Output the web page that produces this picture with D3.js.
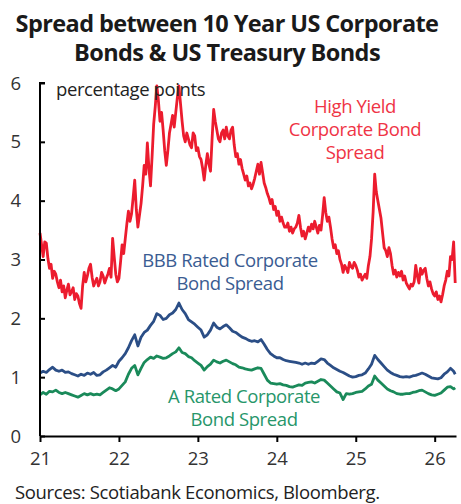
<!DOCTYPE html>
<html>
<head>
<meta charset="utf-8">
<script src="https://cdn.jsdelivr.net/npm/d3@7"></script>
<style>
  html, body { margin: 0; padding: 0; background: #fff; }
  svg { display: block; font-family: "Open Sans", "Noto Sans", sans-serif; }
</style>
</head>
<body>
<svg id="chart" width="461" height="504"></svg>
<script>
// High yield observation dates, as decimal years (21 = Jan 2021)
const hyDates = [
  21.00, 21.02, 21.04, 21.06, 21.08, 21.10, 21.12, 21.14, 21.16, 21.18,
  21.20, 21.22, 21.24, 21.26, 21.28, 21.30, 21.32, 21.34, 21.36, 21.38,
  21.40, 21.42, 21.44, 21.46, 21.48, 21.50, 21.52, 21.54, 21.56, 21.58,
  21.60, 21.62, 21.64, 21.66, 21.68, 21.70, 21.72, 21.74, 21.76, 21.78,
  21.80, 21.82, 21.84, 21.86, 21.88, 21.90, 21.92, 21.94, 21.96, 21.98,
  22.00, 22.02, 22.04, 22.06, 22.08, 22.10, 22.12, 22.14, 22.16, 22.18,
  22.20, 22.22, 22.24, 22.26, 22.28, 22.30, 22.32, 22.34, 22.36, 22.38,
  22.40, 22.42, 22.44, 22.46, 22.48, 22.50, 22.52, 22.54, 22.56, 22.58,
  22.60, 22.62, 22.64, 22.66, 22.68, 22.70, 22.72, 22.74, 22.76, 22.78,
  22.80, 22.82, 22.84, 22.86, 22.88, 22.90, 22.92, 22.94, 22.96, 22.98,
  23.00, 23.02, 23.04, 23.06, 23.08, 23.10, 23.12, 23.14, 23.16, 23.18,
  23.20, 23.22, 23.24, 23.26, 23.28, 23.30, 23.32, 23.34, 23.36, 23.38,
  23.40, 23.42, 23.44, 23.46, 23.48, 23.50, 23.52, 23.54, 23.56, 23.58,
  23.60, 23.62, 23.64, 23.66, 23.68, 23.70, 23.72, 23.74, 23.76, 23.78,
  23.80, 23.82, 23.84, 23.86, 23.88, 23.90, 23.92, 23.94, 23.96, 23.98,
  24.00, 24.02, 24.04, 24.06, 24.08, 24.10, 24.12, 24.14, 24.16, 24.18,
  24.20, 24.22, 24.24, 24.26, 24.28, 24.30, 24.32, 24.34, 24.36, 24.38,
  24.40, 24.42, 24.44, 24.46, 24.48, 24.50, 24.52, 24.54, 24.56, 24.58,
  24.60, 24.62, 24.64, 24.66, 24.68, 24.70, 24.72, 24.74, 24.76, 24.78,
  24.80, 24.82, 24.84, 24.86, 24.88, 24.90, 24.92, 24.94, 24.96, 24.98,
  25.00, 25.02, 25.04, 25.06, 25.08, 25.10, 25.12, 25.14, 25.16, 25.18,
  25.20, 25.22, 25.24, 25.26, 25.28, 25.30, 25.32, 25.34, 25.36, 25.38,
  25.40, 25.42, 25.44, 25.46, 25.48, 25.50, 25.52, 25.54, 25.56, 25.58,
  25.60, 25.62, 25.64, 25.66, 25.68, 25.70, 25.72, 25.74, 25.76, 25.78,
  25.80, 25.82, 25.84, 25.86, 25.88, 25.90, 25.92, 25.94, 25.96, 25.98,
  26.00, 26.02, 26.04, 26.06, 26.08, 26.10, 26.12, 26.14, 26.16, 26.18,
  26.20, 26.22, 26.24, 26.26
];

// High yield corporate bond spread, percentage points
const highYield = [
  3.45, 3.25, 3.05, 3.30, 3.28, 3.02, 2.85, 2.92, 2.68, 2.80,
  2.75, 2.62, 2.52, 2.65, 2.45, 2.55, 2.35, 2.48, 2.58, 2.40,
  2.45, 2.52, 2.32, 2.42, 2.38, 2.25, 2.17, 2.55, 2.78, 2.62,
  2.72, 2.85, 2.92, 2.70, 2.55, 2.62, 2.68, 2.55, 2.62, 2.78,
  2.72, 2.60, 2.68, 2.75, 2.85, 2.70, 3.36, 3.05, 2.75, 2.62,
  2.68, 2.95, 3.25, 3.10, 3.35, 3.60, 3.82, 3.65, 3.78, 4.05,
  4.35, 3.85, 3.55, 3.75, 3.95, 4.25, 4.60, 4.45, 4.98, 4.55,
  4.25, 4.75, 5.30, 5.60, 5.95, 5.70, 5.35, 5.50, 5.20, 4.85,
  4.60, 4.85, 5.15, 5.30, 5.45, 5.25, 5.50, 5.75, 5.95, 5.65,
  5.35, 5.10, 5.00, 5.15, 5.05, 4.95, 4.90, 5.15, 5.10, 4.85,
  4.90, 4.75, 4.70, 4.55, 4.35, 4.60, 4.80, 4.62, 4.50, 5.05,
  5.55, 5.35, 5.20, 5.05, 5.00, 5.15, 5.20, 5.05, 5.25, 5.10,
  5.05, 5.20, 5.25, 4.95, 4.75, 4.80, 4.62, 4.70, 4.55, 4.45,
  4.35, 4.42, 4.25, 4.30, 4.20, 4.28, 4.38, 4.50, 4.62, 4.45,
  4.65, 4.48, 4.30, 4.22, 4.12, 4.05, 3.95, 4.02, 3.85, 3.90,
  3.75, 3.82, 3.65, 3.72, 3.62, 3.55, 3.55, 3.62, 3.48, 3.55,
  3.45, 3.52, 3.55, 3.62, 3.75, 3.55, 3.40, 3.48, 3.35, 3.45,
  3.55, 3.48, 3.60, 3.52, 3.65, 3.55, 3.45, 3.58, 3.50, 3.75,
  4.05, 3.80, 3.65, 3.72, 3.55, 3.35, 3.20, 3.25, 3.10, 3.15,
  3.00, 2.92, 2.78, 2.90, 2.85, 2.78, 2.95, 2.88, 2.85, 2.95,
  2.90, 2.82, 2.70, 2.75, 2.65, 2.70, 2.75, 2.68, 2.90, 3.05,
  3.35, 3.80, 4.45, 4.15, 4.00, 3.85, 3.70, 3.45, 3.20, 3.15,
  3.05, 3.20, 3.10, 2.90, 2.75, 2.82, 2.70, 2.78, 2.72, 2.80,
  2.65, 2.72, 2.60, 2.55, 2.50, 2.58, 2.55, 2.62, 2.90, 2.72,
  2.60, 2.85, 2.75, 2.82, 2.85, 2.68, 2.55, 2.62, 2.50, 2.42,
  2.38, 2.45, 2.32, 2.38, 2.28, 2.40, 2.55, 2.65, 2.80, 2.72,
  3.05, 3.00, 3.30, 2.60
];

// Investment grade observation dates, as decimal years
const igDates = [
  21.00, 21.04, 21.08, 21.12, 21.16, 21.20, 21.24, 21.28, 21.32, 21.36,
  21.40, 21.44, 21.48, 21.52, 21.56, 21.60, 21.64, 21.68, 21.72, 21.76,
  21.80, 21.84, 21.88, 21.92, 21.96, 22.00, 22.04, 22.08, 22.12, 22.16,
  22.20, 22.24, 22.28, 22.32, 22.36, 22.40, 22.44, 22.48, 22.52, 22.56,
  22.60, 22.64, 22.68, 22.72, 22.76, 22.80, 22.84, 22.88, 22.92, 22.96,
  23.00, 23.04, 23.08, 23.12, 23.16, 23.20, 23.24, 23.28, 23.32, 23.36,
  23.40, 23.44, 23.48, 23.52, 23.56, 23.60, 23.64, 23.68, 23.72, 23.76,
  23.80, 23.84, 23.88, 23.92, 23.96, 24.00, 24.04, 24.08, 24.12, 24.16,
  24.20, 24.24, 24.28, 24.32, 24.36, 24.40, 24.44, 24.48, 24.52, 24.56,
  24.60, 24.64, 24.68, 24.72, 24.76, 24.80, 24.84, 24.88, 24.92, 24.96,
  25.00, 25.04, 25.08, 25.12, 25.16, 25.20, 25.24, 25.28, 25.32, 25.36,
  25.40, 25.44, 25.48, 25.52, 25.56, 25.60, 25.64, 25.68, 25.72, 25.76,
  25.80, 25.84, 25.88, 25.92, 25.96, 26.00, 26.04, 26.08, 26.12, 26.16,
  26.20, 26.24, 26.26
];

// BBB rated corporate bond spread, percentage points
const bbbRated = [
  1.07, 1.10, 1.08, 1.13, 1.17, 1.12, 1.10, 1.12, 1.08, 1.09,
  1.06, 1.04, 1.02, 1.05, 1.03, 1.07, 1.05, 1.08, 1.03, 1.04,
  1.09, 1.12, 1.16, 1.20, 1.17, 1.27, 1.33, 1.40, 1.50, 1.62,
  1.72, 1.53, 1.68, 1.76, 1.80, 1.88, 1.95, 2.08, 2.05, 1.98,
  2.00, 2.06, 2.09, 2.15, 2.26, 2.15, 2.08, 1.98, 1.94, 1.90,
  1.85, 1.80, 1.68, 1.72, 1.80, 1.92, 1.85, 1.82, 1.86, 1.89,
  1.84, 1.78, 1.76, 1.72, 1.68, 1.66, 1.63, 1.61, 1.62, 1.60,
  1.64, 1.56, 1.47, 1.40, 1.36, 1.33, 1.33, 1.30, 1.28, 1.27,
  1.26, 1.25, 1.24, 1.22, 1.24, 1.22, 1.24, 1.23, 1.27, 1.31,
  1.30, 1.24, 1.20, 1.16, 1.13, 1.10, 1.08, 1.05, 1.02, 1.00,
  1.01, 1.03, 1.04, 1.07, 1.14, 1.22, 1.37, 1.30, 1.24, 1.18,
  1.12, 1.08, 1.05, 1.03, 1.01, 1.00, 1.01, 1.00, 1.02, 1.03,
  1.05, 1.07, 1.05, 1.02, 0.99, 0.98, 0.97, 0.99, 1.05, 1.09,
  1.15, 1.10, 1.05
];

// A rated corporate bond spread, percentage points
const aRated = [
  0.70, 0.74, 0.71, 0.76, 0.75, 0.78, 0.74, 0.72, 0.74, 0.72,
  0.70, 0.68, 0.66, 0.69, 0.72, 0.70, 0.72, 0.70, 0.71, 0.70,
  0.74, 0.78, 0.82, 0.80, 0.77, 0.80, 0.86, 0.92, 1.05, 1.15,
  1.20, 1.04, 1.15, 1.25, 1.30, 1.34, 1.32, 1.36, 1.34, 1.32,
  1.33, 1.36, 1.40, 1.43, 1.50, 1.42, 1.40, 1.35, 1.33, 1.28,
  1.24, 1.20, 1.12, 1.18, 1.22, 1.29, 1.26, 1.24, 1.27, 1.29,
  1.26, 1.23, 1.21, 1.17, 1.16, 1.14, 1.13, 1.12, 1.14, 1.16,
  1.15, 1.05, 0.95, 0.90, 0.89, 0.88, 0.89, 0.87, 0.86, 0.84,
  0.83, 0.85, 0.87, 0.86, 0.90, 0.91, 0.92, 0.90, 0.93, 0.96,
  0.95, 0.90, 0.85, 0.80, 0.75, 0.73, 0.62, 0.72, 0.71, 0.72,
  0.74, 0.75, 0.76, 0.80, 0.85, 0.88, 1.02, 0.95, 0.90, 0.85,
  0.80, 0.77, 0.75, 0.72, 0.71, 0.71, 0.72, 0.72, 0.74, 0.75,
  0.77, 0.78, 0.75, 0.72, 0.70, 0.69, 0.71, 0.73, 0.78, 0.83,
  0.84, 0.80, 0.82
];

const yTicks = [0, 1, 2, 3, 4, 5, 6];
const xTicks = [21, 22, 23, 24, 25, 26];

const titleLines = ["Spread between 10 Year US Corporate", "Bonds & US Treasury Bonds"];
const sourceText = "Sources: Scotiabank Economics, Bloomberg.";

const colors = { hy: "#EC1C2E", bbb: "#2B4E86", a: "#1A8A5A" };
const labelColors = { hy: "#EF3445", bbb: "#3A5C92", a: "#27966A" };

const svg = d3.select("#chart");

const x = d3.scaleLinear().domain([21, 26.27]).range([40, 456]);
const y = d3.scaleLinear().domain([0, 6]).range([436, 83]);

// Title
svg.append("g").selectAll("text")
  .data(titleLines)
  .join("text")
  .attr("x", 227)
  .attr("y", (d, i) => 32 + i * 29)
  .attr("text-anchor", "middle")
  .attr("font-size", 23.5)
  .attr("font-weight", 700)
  .attr("letter-spacing", -0.6)
  .attr("fill", "#1a1a1a")
  .text(d => d);

// Series lines
const series = [
  { dates: hyDates, values: highYield, color: colors.hy, width: 2.8 },
  { dates: igDates, values: bbbRated, color: colors.bbb, width: 2.8 },
  { dates: igDates, values: aRated, color: colors.a, width: 2.8 }
];
const line = d3.line().x(d => x(d[0])).y(d => y(d[1]));
svg.append("g").selectAll("path")
  .data(series)
  .join("path")
  .attr("d", s => line(s.dates.map((t, i) => [t, s.values[i]])))
  .attr("fill", "none")
  .attr("stroke", s => s.color)
  .attr("stroke-width", s => s.width)
  .attr("stroke-linejoin", "round");

// Axes
const yAxis = svg.append("g")
  .attr("transform", "translate(40,0)")
  .call(d3.axisRight(y).tickValues(yTicks).tickSize(5).tickFormat(""));
yAxis.select(".domain").attr("stroke", "#000").attr("stroke-width", 2).attr("d", `M5,${y(6)}H0V${y(0)}`);
yAxis.selectAll(".tick line").attr("stroke", "#000").attr("stroke-width", 2);

svg.append("g").selectAll("text")
  .data(yTicks)
  .join("text")
  .attr("x", 21)
  .attr("y", d => y(d))
  .attr("dy", "0.36em")
  .attr("text-anchor", "end")
  .attr("font-size", 18.5)
  .attr("fill", "#333")
  .text(d => d);

const xAxis = svg.append("g")
  .attr("transform", `translate(0,${y(0)})`)
  .call(d3.axisBottom(x).tickValues(xTicks).tickFormat(d3.format("d"))
    .tickSize(6).tickPadding(10).tickSizeOuter(0));
xAxis.select(".domain").attr("stroke", "#000").attr("stroke-width", 2);
xAxis.selectAll(".tick line").attr("stroke", "#000").attr("stroke-width", 2);
xAxis.selectAll(".tick text")
  .attr("font-size", 18.5)
  .attr("font-family", "'Open Sans', sans-serif")
  .attr("fill", "#333");

// Annotations
const note = (lines, cx, y0, color, anchor = "middle") => {
  svg.append("g").selectAll("text")
    .data(lines)
    .join("text")
    .attr("x", cx)
    .attr("y", (d, i) => y0 + i * 23)
    .attr("text-anchor", anchor)
    .attr("font-size", 18.5)
    .attr("letter-spacing", -0.4)
    .attr("fill", color)
    .text(d => d);
};
note(["percentage points"], 56, 96, "#222", "start");
note(["High Yield", "Corporate Bond", "Spread"], 355, 113, labelColors.hy);
note(["BBB Rated Corporate", "Bond Spread"], 230, 267, labelColors.bbb);
note(["A Rated Corporate", "Bond Spread"], 244, 403, labelColors.a);

// Source line
svg.append("text")
  .attr("x", 15)
  .attr("y", 499)
  .attr("font-size", 18.5)
  .attr("letter-spacing", -0.35)
  .attr("fill", "#222")
  .text(sourceText);
</script>
</body>
</html>
